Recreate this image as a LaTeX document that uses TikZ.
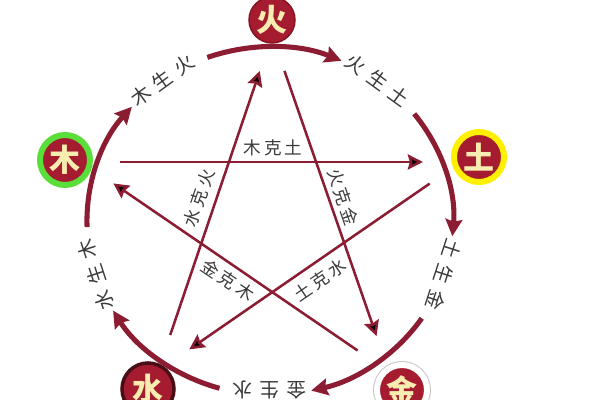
\documentclass[tikz,border=0pt]{standalone}
\usepackage{fontspec}
\newfontfamily\cjk{Noto Sans CJK SC}
\usetikzlibrary{arrows.meta}
\definecolor{wxred}{HTML}{A51C30}
\definecolor{wxline}{HTML}{8C1C32}
\definecolor{wxtext}{HTML}{3A3A3A}
\definecolor{wxcream}{HTML}{F8EDB0}
\definecolor{wxgreen}{HTML}{5ADF3A}
\definecolor{wxyellow}{HTML}{FFF000}
\definecolor{wxfire}{HTML}{86101E}
\definecolor{wxwater}{HTML}{4A0E16}
\begin{document}
\begin{tikzpicture}[x=0.025cm, y=0.025cm, thick,
    main node/.style={circle, fill=wxred, text=wxcream, minimum size=1.25cm, inner sep=0pt, outer sep=0pt,
                      font=\cjk\bfseries\fontsize{22}{22}\selectfont},
    ring/.style={draw=#1, line width=.15cm},
    sheng/.style={draw=wxline, line width=3.6pt, -{Stealth[length=.42cm, width=.42cm, inset=.06cm]}},
    ke/.style={draw=wxline, line width=1.8pt, -{Stealth[length=.38cm, width=.38cm, inset=.05cm]},
               shorten <=.95cm, shorten >=.95cm},
    cycle label/.style={text=wxtext, inner sep=1pt, font=\cjk\fontsize{14}{14}\selectfont},
    star label/.style={text=wxtext, inner sep=1pt, font=\cjk\fontsize{12.5}{13}\selectfont}]

	\useasboundingbox (0,0) rectangle (600,400);

	% the five elements
	\node[main node, ring=wxfire, line width=1pt, minimum size=1.15cm] (1) at (272,380) {火};
	\node[main node, ring=wxyellow] (2) at (479,243) {土};
	\node[main node, ring=white, preaction={draw=gray!45, line width=.2cm}] (3) at (402,10) {金};
	\node[main node, ring=wxwater, line width=2.5pt, minimum size=1.3cm] (4) at (148,11) {水};
	\node[main node, ring=wxgreen] (5) at (65,240) {木};

	% centre of the outer cycle
	\coordinate (O) at (270,179);

	% generating cycle
	\path (O) ++(126:4.575cm and 4.35cm) node[cycle label, rotate=36] (6) {木\hspace{.18cm}生\hspace{.18cm}火};
	\path (O) ++(54:4.575cm and 4.35cm) node[cycle label, rotate=-36] (7) {火\hspace{.18cm}生\hspace{.18cm}土};
	\path (O) ++(-18:4.575cm and 4.35cm) node[cycle label, rotate=-108] (8) {土\hspace{.18cm}生\hspace{.18cm}金};
	\node[cycle label, rotate=180] (9) at (270,10) {金\hspace{.18cm}生\hspace{.18cm}水};
	\path (O) ++(198:4.575cm and 4.35cm) node[cycle label, rotate=108] (10) {水\hspace{.18cm}生\hspace{.18cm}木};

	\path (O) ++(110:4.575cm and 4.35cm) coordinate (a1);
	\path (O) ++(38:4.575cm and 4.35cm) coordinate (a2);
	\path (O) ++(-34:4.575cm and 4.35cm) coordinate (a3);
	\path (O) ++(-106:4.575cm and 4.35cm) coordinate (a4);
	\path (O) ++(182:4.575cm and 4.35cm) coordinate (a5);

	\draw[sheng] (a1) arc[start angle=110, end angle=67, x radius=4.575cm, y radius=4.35cm];
	\draw[sheng] (a2) arc[start angle=38, end angle=-5, x radius=4.575cm, y radius=4.35cm];
	\draw[sheng] (a3) arc[start angle=-34, end angle=-77, x radius=4.575cm, y radius=4.35cm];
	\draw[sheng] (a4) arc[start angle=-106, end angle=-149, x radius=4.575cm, y radius=4.35cm];
	\draw[sheng] (a5) arc[start angle=182, end angle=139, x radius=4.575cm, y radius=4.35cm];

	% overcoming star, points of the pentagram
	\coordinate (k1) at (272,365);
	\coordinate (k2) at (461,238);
	\coordinate (k3) at (389,28);
	\coordinate (k4) at (158,29);
	\coordinate (k5) at (82,238);

	\path[ke]
	  (k5) edge (k2)
	  (k2) edge (k4)
	  (k4) edge (k1)
	  (k1) edge (k3)
	  (k3) edge (k5);

	\node[star label] (11) at (273,252) {木\hspace{.08cm}克\hspace{.08cm}土};
	\node[star label, rotate=71] (12) at (199,202) {水\hspace{.08cm}克\hspace{.08cm}火};
	\node[star label, rotate=-71] (13) at (343,203) {火\hspace{.08cm}克\hspace{.08cm}金};
	\node[star label, rotate=-34] (14) at (228,120) {金\hspace{.08cm}克\hspace{.08cm}木};
	\node[star label, rotate=34] (15) at (320,120) {土\hspace{.08cm}克\hspace{.08cm}水};

\end{tikzpicture}
\end{document}
